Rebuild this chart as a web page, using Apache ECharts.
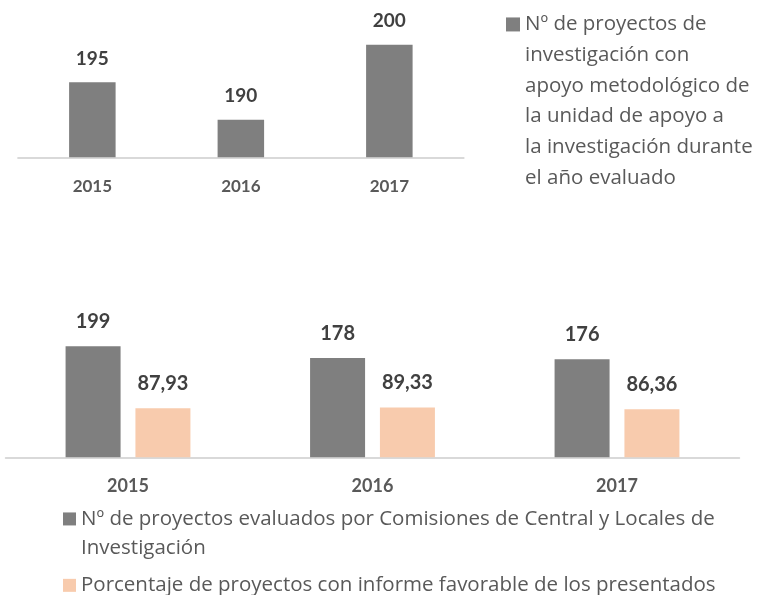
<!DOCTYPE html>
<html>
<head>
<meta charset="utf-8">
<script src="https://cdn.jsdelivr.net/npm/echarts@6/dist/echarts.min.js"></script>
<style>
  html, body { margin: 0; padding: 0; background: #ffffff; }
  #chart { width: 761px; height: 595px; }
</style>
</head>
<body>
<div id="chart"></div>
<script>
// ---- Data ----
const years = ['2015', '2016', '2017'];
const apoyoValues = [195, 190, 200];
const evaluadosValues = [199, 178, 176];
const favorablePct = [87.93, 89.33, 86.36];

const nameApoyo = 'Nº de proyectos de investigación con apoyo metodológico de la unidad de apoyo a la investigación durante el año evaluado';
const nameEvaluados = 'Nº de proyectos evaluados por Comisiones de Central y Locales de Investigación';
const nameFavorable = 'Porcentaje de proyectos con informe favorable de los presentados';

const apoyoLines = ['Nº de proyectos de', 'investigación con', 'apoyo metodológico de', 'la unidad de apoyo a', 'la investigación durante', 'el año evaluado'];
const evaluadosLines = ['Nº de proyectos evaluados por Comisiones de Central y Locales de', 'Investigación'];
const favorableLines = ['Porcentaje de proyectos con informe favorable de los presentados'];

// ---- Styles ----
const GRAY = '#7f7f7f';
const PEACH = '#f8cbad';
const FONT = 'Lato';
const LEGEND_FONT = 'Open Sans';

// legend text: blank lines above so that the icon sits beside the first line
const wrapLines = lines => new Array(lines.length).join('\n') + lines.join('\n');
const wrapped = {};
wrapped[nameApoyo] = wrapLines(apoyoLines);
wrapped[nameEvaluados] = wrapLines(evaluadosLines);
wrapped[nameFavorable] = wrapLines(favorableLines);

const fmtComma = p => p.value.toFixed(2).replace('.', ',');

const valueLabel = (size, extra) => Object.assign({
  show: true, position: 'top', distance: 14,
  fontFamily: FONT, fontWeight: 'bold', fontSize: size, color: '#404040'
}, extra || {});

const catAxis = (grid, size, margin) => ({
  type: 'category', gridIndex: grid, data: years,
  axisTick: { show: false },
  axisLine: { lineStyle: { color: '#d9d9d9', width: 2 } },
  axisLabel: { fontFamily: FONT, fontWeight: 'bold', fontSize: size, color: '#595959', margin: margin }
});

const legendBase = (names, left, top, icon, lh) => ({
  data: names, left: left, top: top, orient: 'vertical', padding: 0,
  icon: 'rect', itemWidth: icon, itemHeight: icon, selectedMode: false,
  formatter: n => wrapped[n],
  textStyle: { fontFamily: LEGEND_FONT, fontSize: 20.5, color: '#595959', lineHeight: lh }
});

const chart = echarts.init(document.getElementById('chart'), null, { renderer: 'canvas' });
chart.setOption({
  animation: false,
  backgroundColor: '#ffffff',
  grid: [
    { left: 18.1, right: 297.4, top: 7.3, bottom: 437.7 },
    { left: 5.75, right: 21.75, top: 317.9, bottom: 137.7 }
  ],
  xAxis: [catAxis(0, 17, 21), catAxis(1, 18, 20)],
  yAxis: [
    { type: 'value', gridIndex: 0, min: 185, max: 205, show: false },
    { type: 'value', gridIndex: 1, min: 0, max: 250, show: false }
  ],
  legend: [
    legendBase([nameApoyo], 506, -144.4, 14, 30.7),
    legendBase([nameEvaluados], 63, 475, 13, 29.3),
    legendBase([nameFavorable], 63, 570.7, 13, 29.3)
  ],
  series: [
    { type: 'bar', name: nameApoyo, xAxisIndex: 0, yAxisIndex: 0, data: apoyoValues,
      barWidth: 46.5, itemStyle: { color: GRAY }, label: valueLabel(19) },
    { type: 'bar', name: nameEvaluados, xAxisIndex: 1, yAxisIndex: 1, data: evaluadosValues,
      barWidth: 55, barGap: '27%', itemStyle: { color: GRAY }, label: valueLabel(20, { distance: 15 }) },
    { type: 'bar', name: nameFavorable, xAxisIndex: 1, yAxisIndex: 1, data: favorablePct,
      barWidth: 55, barGap: '27%', itemStyle: { color: PEACH }, label: valueLabel(20, { distance: 15, formatter: fmtComma }) }
  ]
});
</script>
</body>
</html>
